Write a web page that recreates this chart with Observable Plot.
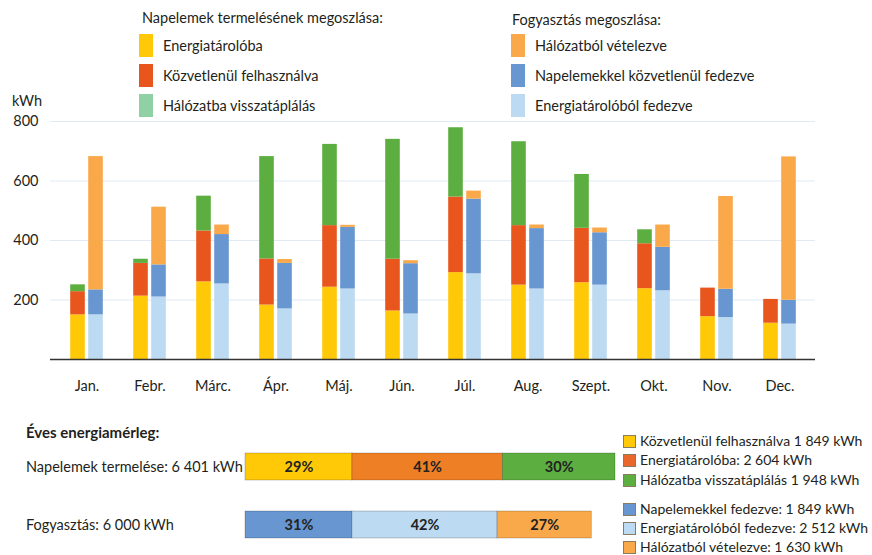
<!DOCTYPE html>
<html><head><meta charset="utf-8">
<script src="https://cdn.jsdelivr.net/npm/d3@7"></script>
<script src="https://cdn.jsdelivr.net/npm/@observablehq/plot@0.6"></script>
<style>
body{margin:0;background:#fff;font-family:Lato,"Open Sans",sans-serif;color:#231f20;}
#wrap{position:relative;width:872px;height:555px;overflow:hidden;background:#fff;}
.abs{position:absolute;white-space:nowrap;font-size:14.5px;line-height:16px;}
.sw{position:absolute;width:14px;height:23px;}
.sq{position:absolute;width:11px;height:11px;border:1px solid #8a7a60;}
#main,#annual{position:absolute;left:0;}
#main{top:0;} #annual{top:430px;}
</style></head><body><div id="wrap"></div>
<script>
// ---- data ----
const months = ["Jan.","Febr.","Márc.","Ápr.","Máj.","Jún.","Júl.","Aug.","Szept.","Okt.","Nov.","Dec."];
// Production split (kWh)
const prodToStorage = [150,213,261,183,243,163,292,250,258,238,144,122]; // Energiatárolóba
const prodDirect    = [ 78,110,171,155,207,174,254,200,183,151, 96, 80]; // Közvetlenül felhasználva
const prodToGrid    = [ 23, 14,117,344,273,403,233,282,181, 47,  0,  0]; // Hálózatba visszatáplálás
// Consumption split (kWh)
const consFromStorage = [150,210,254,170,237,153,288,237,250,231,141,119]; // Energiatárolóból fedezve
const consDirect      = [ 84,108,166,153,207,169,251,203,176,146, 95, 80]; // Napelemekkel közvetlenül fedezve
const consFromGrid    = [448,194, 32, 13,  7, 10, 27, 12, 16, 75,312,482]; // Hálózatból vételezve
const yTicks = [200,400,600,800];

const prodSeries = ["Energiatárolóba","Közvetlenül felhasználva","Hálózatba visszatáplálás"];
const consSeries = ["Energiatárolóból fedezve","Napelemekkel közvetlenül fedezve","Hálózatból vételezve"];

// Annual balance
const annualRows = ["Napelemek termelése: 6 401 kWh","Fogyasztás: 6 000 kWh"];
const annualProdKwh = [1849, 2604, 1948];
const annualProdPct = ["29%","41%","30%"];
const annualConsKwh = [1849, 2512, 1630];
const annualConsPct = ["31%","42%","27%"];
const annualLegend = [
  "Közvetlenül felhasználva 1 849 kWh",
  "Energiatárolóba: 2 604 kWh",
  "Hálózatba visszatáplálás 1 948 kWh",
  "Napelemekkel fedezve: 1 849 kWh",
  "Energiatárolóból fedezve: 2 512 kWh",
  "Hálózatból vételezve: 1 630 kWh"
];

// ---- colours ----
const C = {
  yellow:"#FFC908", red:"#E8561E", green:"#5BAE3F", mint:"#8FD1A4",
  orange:"#F9A94A", blue:"#6796D1", light:"#BCDAF1", orange2:"#EE7F24", red2:"#E9672A"
};
const prodColors = [C.yellow, C.red, C.green];
const consColors = [C.light, C.blue, C.orange];

const prodData = [], consData = [];
months.forEach((m,i)=>{
  [prodToStorage,prodDirect,prodToGrid].forEach((arr,k)=>prodData.push({month:m, series:prodSeries[k], value:arr[i]}));
  [consFromStorage,consDirect,consFromGrid].forEach((arr,k)=>consData.push({month:m, series:consSeries[k], value:arr[i]}));
});

const wrap = document.getElementById("wrap");
function addDiv(cls, html, style){const d=document.createElement("div");d.className=cls;d.innerHTML=html;Object.assign(d.style,style);wrap.appendChild(d);return d;}

// ---- main chart ----
const W=872, mL=50, mR=57, pad=0.1;
const step=(W-mL-mR)/(months.length - pad + 2*pad);
const bw=step*(1-pad), barW=14.5, gap=3.5;
const leftInset = bw/2 - gap/2 - barW, rightInset = bw/2 + gap/2;

const main = Plot.plot({
  width: W, height: 400,
  marginLeft: mL, marginRight: mR, marginTop: 121, marginBottom: 41,
  style:{fontFamily:"Lato, 'Open Sans', sans-serif", fontSize:"14.5px", color:"#231f20", background:"transparent"},
  x:{domain:months, padding:pad, label:null, tickSize:0, tickPadding:21},
  y:{domain:[0,800], ticks:yTicks, label:null, tickSize:0, tickPadding:12},
  color:{domain:[...prodSeries,...consSeries], range:[...prodColors,...consColors]},
  marks:[
    Plot.ruleY(yTicks,{stroke:"#dfeaf4", strokeWidth:1}),
    Plot.barY(prodData,{x:"month", y:"value", fill:"series", insetLeft:leftInset, insetRight:rightInset}),
    Plot.barY(consData,{x:"month", y:"value", fill:"series", insetLeft:rightInset, insetRight:leftInset}),
    Plot.ruleY([0],{stroke:"#333", strokeWidth:1.6})
  ]
});
main.id="main";
wrap.appendChild(main);

// ---- top legends ----
addDiv("abs","Napelemek termelésének megoszlása:",{left:"142px",top:"10px"});
addDiv("abs","Fogyasztás megoszlása:",{left:"512px",top:"12px"});
const rowsY=[34,64,94];
const legL=[[C.yellow,prodSeries[0]],[C.red,prodSeries[1]],[C.mint,prodSeries[2]]];
const legR=[[C.orange,consSeries[2]],[C.blue,consSeries[1]],[C.light,consSeries[0]]];
legL.forEach(([c,t],i)=>{addDiv("sw","",{left:"139px",top:rowsY[i]+"px",background:c});addDiv("abs",t,{left:"163px",top:(rowsY[i]+4)+"px"});});
legR.forEach(([c,t],i)=>{addDiv("sw","",{left:"511px",top:rowsY[i]+"px",background:c});addDiv("abs",t,{left:"535px",top:(rowsY[i]+4)+"px"});});
addDiv("abs","kWh",{left:"12px",top:"93px"});

// ---- annual balance ----
const annualData = [];
annualProdKwh.forEach((v,i)=>annualData.push({row:"P", value:v, pct:annualProdPct[i], color:[C.yellow,C.orange2,C.green][i]}));
annualConsKwh.forEach((v,i)=>annualData.push({row:"C", value:v, pct:annualConsPct[i], color:[C.blue,C.light,C.orange][i]}));
const annual = Plot.plot({
  width: W, height: 125,
  marginLeft: 245, marginRight: W-615, marginTop: 23, marginBottom: 17,
  style:{fontFamily:"Lato, 'Open Sans', sans-serif", fontSize:"14px", color:"#222", background:"transparent"},
  x:{domain:[0, d3.sum(annualProdKwh)], axis:null},
  y:{domain:["P","C"], paddingInner:0.54, paddingOuter:0, axis:null},
  marks:[
    Plot.barX(annualData, Plot.stackX({x:"value", y:"row", fill:"color", stroke:"rgba(0,0,0,0.25)", strokeWidth:0.8})),
    Plot.text(annualData, Plot.stackX({x:"value", y:"row", text:"pct", fontWeight:"bold", fontSize:14.5, fill:"#222"}))
  ]
});
annual.id="annual";
wrap.appendChild(annual);

addDiv("abs","<b>Éves energiamérleg:</b>",{left:"26px",top:"424px",fontSize:"15px"});
addDiv("abs",annualRows[0],{left:"26px",top:"459px"});
addDiv("abs",annualRows[1],{left:"26px",top:"517px"});

const sqY=[435,454,474,503,522,541];
const sqC=[C.yellow,C.red2,C.green,C.blue,C.light,C.orange];
annualLegend.forEach((t,i)=>{
  addDiv("sq","",{left:"623px",top:sqY[i]+"px",background:sqC[i]});
  addDiv("abs",t,{left:"640px",top:(sqY[i]-2)+"px",fontSize:"14px"});
});
</script></body></html>
